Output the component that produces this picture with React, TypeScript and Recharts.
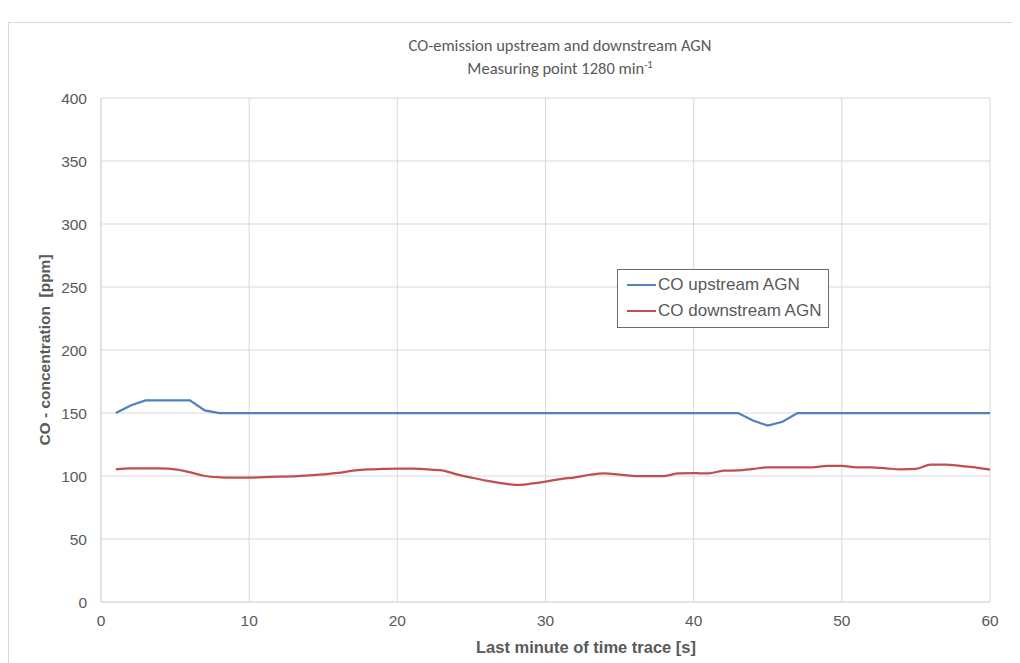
import React from 'react';
import { LineChart, Line, XAxis, YAxis, CartesianGrid, Legend } from 'recharts';

// seconds of the last minute
const seconds = [
  1, 2, 3, 4, 5, 6, 7, 8, 9, 10, 11, 12, 13, 14, 15, 16, 17, 18, 19, 20,
  21, 22, 23, 24, 25, 26, 27, 28, 29, 30, 31, 32, 33, 34, 35, 36, 37, 38, 39, 40,
  41, 42, 43, 44, 45, 46, 47, 48, 49, 50, 51, 52, 53, 54, 55, 56, 57, 58, 59, 60,
];

const upstream = [
  150, 156, 160, 160, 160, 160, 152, 150, 150, 150, 150, 150, 150, 150, 150, 150, 150, 150, 150, 150,
  150, 150, 150, 150, 150, 150, 150, 150, 150, 150, 150, 150, 150, 150, 150, 150, 150, 150, 150, 150,
  150, 150, 150, 144, 140, 143, 150, 150, 150, 150, 150, 150, 150, 150, 150, 150, 150, 150, 150, 150,
];

const downstream = [
  105.3, 106.1, 106.1, 106, 105.3, 103, 100, 99, 98.7, 98.7, 99.2, 99.5, 99.7, 100.5, 101.3, 102.4, 104.2, 105.3, 105.6, 105.8,
  105.8, 105.3, 104.5, 101.3, 98.7, 96.3, 94.4, 92.9, 93.9, 95.5, 97.6, 98.9, 101, 102.1, 101, 100, 100, 100, 102.1, 102.2,
  102.1, 104.2, 104.5, 105.6, 106.9, 106.9, 106.9, 106.9, 108, 108, 106.9, 106.9, 106, 105.3, 105.6, 109, 109, 108, 106.9, 105,
];

const xTicks = [0, 10, 20, 30, 40, 50, 60];
const yTicks = [0, 50, 100, 150, 200, 250, 300, 350, 400];

const seriesNames = ['CO upstream AGN', 'CO downstream AGN'];

const data = seconds.map((s, i) => ({ t: s, up: upstream[i], down: downstream[i] }));

const BLUE = '#4F81BD';
const RED = '#C0504D';
const GRID = '#d9d9d9';
const TEXT = '#595959';
const SANS = '"Liberation Sans", Arial, sans-serif';

const LegendBox = (props: any) => {
  const items = [...(props.payload || [])].sort(
    (a: any, b: any) => seriesNames.indexOf(a.value) - seriesNames.indexOf(b.value)
  );
  return (
    <div
      style={{
        border: '1px solid #6b6b6b',
        background: '#fff',
        width: 212,
        height: 59,
        boxSizing: 'border-box',
        padding: '2px 0 0 9px',
        fontFamily: SANS,
        fontSize: 17,
        color: TEXT,
      }}
    >
      {items.map((it: any) => (
        <div key={it.value} style={{ display: 'flex', alignItems: 'center', height: 26 }}>
          <span style={{ display: 'inline-block', width: 29, height: 2, background: it.color, marginRight: 2 }} />
          <span>{it.value}</span>
        </div>
      ))}
    </div>
  );
};

export default function App() {
  return (
    <div style={{ position: 'relative', width: 1004, height: 655, background: '#fff' }}>
      <div
        style={{
          position: 'absolute',
          left: 0,
          top: 14,
          width: 1020,
          height: 660,
          borderLeft: '1px solid #d9d9d9',
          borderTop: '1px solid #d9d9d9',
        }}
      />
      <div
        style={{
          position: 'absolute',
          left: 352,
          width: 400,
          top: 26,
          textAlign: 'center',
          fontFamily: 'Carlito, Lato, sans-serif',
          fontSize: 16.5,
          lineHeight: '23px',
          color: TEXT,
        }}
      >
        <div>CO-emission upstream and downstream AGN</div>
        <div>
          Measuring point 1280 min<span style={{ fontSize: 10.5, verticalAlign: 'super', lineHeight: 0 }}>-1</span>
        </div>
      </div>
      <div
        style={{
          position: 'absolute',
          left: 37 - 150,
          top: 342 - 10,
          width: 300,
          textAlign: 'center',
          transform: 'rotate(-90deg)',
          fontFamily: SANS,
          fontWeight: 'bold',
          fontSize: 15.5,
          lineHeight: '20px',
          color: TEXT,
          whiteSpace: 'pre',
        }}
      >
        {'CO - concentration  [ppm]'}
      </div>
      <div
        style={{
          position: 'absolute',
          left: 578 - 150,
          top: 629,
          width: 300,
          textAlign: 'center',
          fontFamily: SANS,
          fontWeight: 'bold',
          fontSize: 16.5,
          lineHeight: '20px',
          color: TEXT,
        }}
      >
        Last minute of time trace [s]
      </div>
      <div style={{ position: 'absolute', left: 0, top: 0 }}>
        <LineChart width={1004} height={655} data={data} margin={{ top: 90, right: 22, bottom: 31, left: 0 }}>
          <CartesianGrid stroke={GRID} strokeWidth={1} />
          <XAxis
            dataKey="t"
            type="number"
            domain={[0, 60]}
            ticks={xTicks}
            height={30}
            tickLine={false}
            tickSize={0}
            tickMargin={13}
            axisLine={{ stroke: GRID }}
            tick={{ fill: TEXT, fontSize: 15.5, fontFamily: SANS }}
          />
          <YAxis
            type="number"
            domain={[0, 400]}
            ticks={yTicks}
            width={93}
            tickLine={false}
            tickSize={0}
            tickMargin={14}
            axisLine={{ stroke: GRID }}
            tick={{ fill: TEXT, fontSize: 15.5, fontFamily: SANS }}
          />
          <Legend
            layout="vertical"
            align="center"
            verticalAlign="middle"
            content={<LegendBox />}
            wrapperStyle={{ left: 609, top: 261, width: 212 }}
          />
          <Line
            name={seriesNames[0]}
            type="linear"
            dataKey="up"
            stroke={BLUE}
            strokeWidth={2.25}
            dot={false}
            isAnimationActive={false}
          />
          <Line
            name={seriesNames[1]}
            type="monotone"
            dataKey="down"
            stroke={RED}
            strokeWidth={2.25}
            dot={false}
            isAnimationActive={false}
          />
        </LineChart>
      </div>
    </div>
  );
}
